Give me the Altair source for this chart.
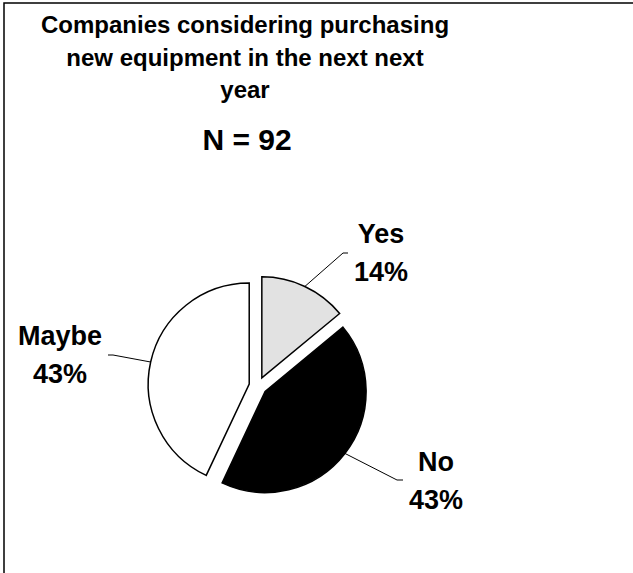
import altair as alt
import pandas as pd

# ---- data ----
categories = ["Yes", "No", "Maybe"]
shares = [14, 43, 43]
slice_order = [0, 1, 2]
title_lines = ["Companies considering purchasing", "new equipment in the next next", "year"]
subtitle = "N = 92"

# ---- layout / style (kept apart from data) ----
W, H = 633, 573
CX, CY = 258, 386        # pie centre (px)
R = 101                  # pie radius (px)
EXPLODE = 9              # slice explosion (px)
label_x = [381, 436, 60]
label_y = [243, 471, 345]
elbow_x = [343, 397, 113]
elbow_y = [253, 480, 355]
tail_x = [348, 403, 108]
fills = ["#e2e2e2", "#000000", "#ffffff"]
FONT = "Liberation Sans"

df = pd.DataFrame({
    "cat": categories,
    "value": shares,
    "order": slice_order,
    "lx": label_x,
    "ly": label_y,
    "ex": elbow_x,
    "ey": elbow_y,
    "tx": tail_x,
})

base = (
    alt.Chart(df)
    .transform_joinaggregate(total="sum(value)")
    .transform_window(cum="sum(value)", sort=[alt.SortField("order")], frame=[None, 0])
    .transform_calculate(
        start="2*PI*(datum.cum - datum.value)/datum.total",
        end="2*PI*datum.cum/datum.total",
    )
    .transform_calculate(mid="(datum.start + datum.end)/2")
    .transform_calculate(
        ox=f"{CX} + {EXPLODE}*sin(datum.mid)",
        oy=f"{CY} - {EXPLODE}*cos(datum.mid)",
    )
    .transform_calculate(
        sx=f"datum.ox + {R}*sin(datum.mid)",
        sy=f"datum.oy - {R}*cos(datum.mid)",
        label="datum.cat + '\\n' + datum.value + '%'",
    )
)

color = alt.Color("cat:N", scale=alt.Scale(domain=categories, range=fills), legend=None)

slices = base.mark_arc(radius=R, stroke="black", strokeWidth=1.5).encode(
    x=alt.X("ox:Q", scale=None, axis=None),
    y=alt.Y("oy:Q", scale=None, axis=None),
    theta=alt.Theta("start:Q", scale=None),
    theta2="end:Q",
    color=color,
)

leader1 = base.mark_rule(color="black", strokeWidth=1).encode(
    x=alt.X("sx:Q", scale=None, axis=None),
    y=alt.Y("sy:Q", scale=None, axis=None),
    x2="ex:Q",
    y2="ey:Q",
)
leader2 = base.mark_rule(color="black", strokeWidth=1).encode(
    x=alt.X("ex:Q", scale=None, axis=None),
    y=alt.Y("ey:Q", scale=None, axis=None),
    x2="tx:Q",
    y2="ey:Q",
)

labels = base.mark_text(
    font=FONT, fontSize=27, fontWeight="bold", color="black",
    align="center", baseline="alphabetic", lineBreak="\n", lineHeight=38,
).encode(
    x=alt.X("lx:Q", scale=None, axis=None),
    y=alt.Y("ly:Q", scale=None, axis=None),
    text="label:N",
)

title = alt.Chart(pd.DataFrame({"t": ["\n".join(title_lines)]})).mark_text(
    font=FONT, fontSize=24, fontWeight="bold", color="black",
    align="center", baseline="alphabetic", lineBreak="\n", lineHeight=32.5,
).encode(x=alt.value(245), y=alt.value(33), text="t:N")

sub = alt.Chart(pd.DataFrame({"t": [subtitle]})).mark_text(
    font=FONT, fontSize=30, fontWeight="bold", color="black",
    align="center", baseline="alphabetic",
).encode(x=alt.value(247), y=alt.value(150), text="t:N")

border = alt.Chart(pd.DataFrame({"a": [0]})).mark_rect(
    fillOpacity=0, stroke="black", strokeWidth=1.5
).encode(x=alt.value(4), y=alt.value(3), x2=alt.value(W + 20), y2=alt.value(H + 20))

chart = (
    alt.layer(border, slices, leader1, leader2, labels, title, sub)
    .properties(width=W, height=H, padding=0, autosize="none", background="white")
    .configure_view(stroke=None)
)

chart.save("out.html", embed_options={"renderer": "svg", "actions": False})
